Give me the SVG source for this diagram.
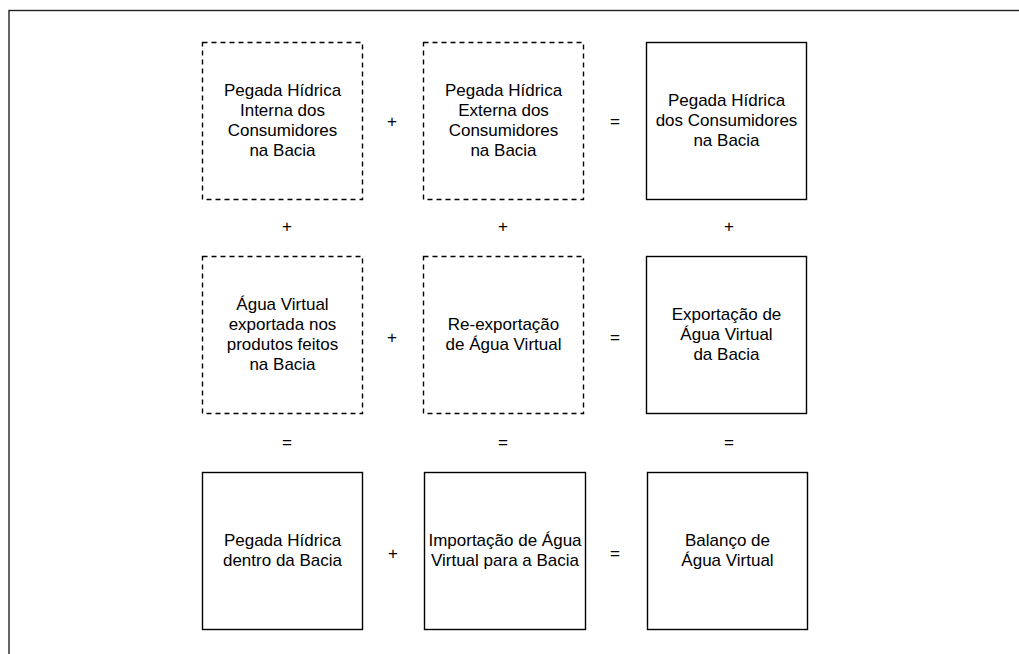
<svg xmlns="http://www.w3.org/2000/svg" width="1019" height="654" viewBox="0 0 1019 654">
<style>
.frame{fill:none;stroke:#222;stroke-width:1.4}
.box{fill:#fff;stroke:#000;stroke-width:1.4}
.dash{stroke-dasharray:5 4}
text{font-family:"Liberation Sans",Arial,sans-serif;font-size:17px;fill:#000;text-anchor:middle}
</style>
<rect class="frame" x="9" y="10.5" width="1030" height="660"/>
<g id="n11"><rect class="box dash" x="202.5" y="42.5" width="160" height="157"/>
<text x="282.5" y="96">Pegada Hídrica</text><text x="282.5" y="116">Interna dos</text><text x="282.5" y="136">Consumidores</text><text x="282.5" y="156">na Bacia</text></g>
<g id="n12"><rect class="box dash" x="423.5" y="42.5" width="160" height="157"/>
<text x="503.5" y="96">Pegada Hídrica</text><text x="503.5" y="116">Externa dos</text><text x="503.5" y="136">Consumidores</text><text x="503.5" y="156">na Bacia</text></g>
<g id="n13"><rect class="box" x="646.5" y="42.5" width="160" height="157"/>
<text x="726.5" y="106">Pegada Hídrica</text><text x="726.5" y="126">dos Consumidores</text><text x="726.5" y="146">na Bacia</text></g>
<g id="n21"><rect class="box dash" x="202.5" y="256.5" width="160" height="157"/>
<text x="282.5" y="310">Água Virtual</text><text x="282.5" y="330">exportada nos</text><text x="282.5" y="350">produtos feitos</text><text x="282.5" y="370">na Bacia</text></g>
<g id="n22"><rect class="box dash" x="423.5" y="256.5" width="160" height="157"/>
<text x="503.5" y="330">Re-exportação</text><text x="503.5" y="350">de Água Virtual</text></g>
<g id="n23"><rect class="box" x="646.5" y="256.5" width="160" height="157"/>
<text x="726.5" y="320">Exportação de</text><text x="726.5" y="340">Água Virtual</text><text x="726.5" y="360">da Bacia</text></g>
<g id="n31"><rect class="box" x="202.5" y="472.5" width="160" height="157"/>
<text x="282.5" y="546">Pegada Hídrica</text><text x="282.5" y="566">dentro da Bacia</text></g>
<g id="n32"><rect class="box" x="424.5" y="472.5" width="161" height="157"/>
<text x="505" y="546">Importação de Água</text><text x="505" y="566">Virtual para a Bacia</text></g>
<g id="n33"><rect class="box" x="647.5" y="472.5" width="160" height="157"/>
<text x="727.5" y="546">Balanço de</text><text x="727.5" y="566">Água Virtual</text></g>
<g id="operators">
<text x="392" y="127">+</text><text x="615" y="127">=</text>
<text x="287" y="232">+</text><text x="503" y="232">+</text><text x="729" y="232">+</text>
<text x="392" y="343">+</text><text x="615" y="343">=</text>
<text x="287" y="448">=</text><text x="503" y="448">=</text><text x="729" y="448">=</text>
<text x="393" y="559">+</text><text x="615" y="559">=</text>
</g>
</svg>
